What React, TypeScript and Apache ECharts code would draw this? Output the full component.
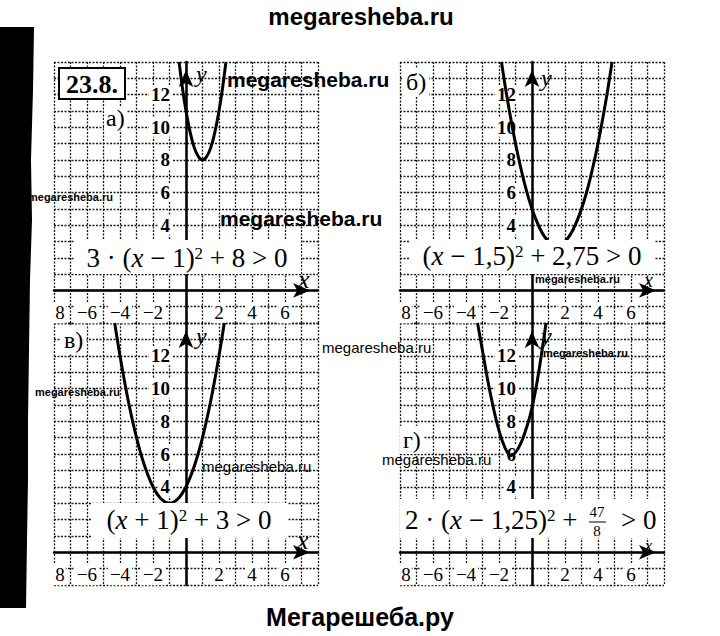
import React, { useEffect, useRef } from 'react';
import * as echarts from 'echarts';

// ---- data ----
const xTickLabels = [-8, -6, -4, -2, 2, 4, 6];
const yTickLabels = [4, 6, 8, 10, 12];

const curveAX = [-0.42, -0.2, 0, 0.25, 0.5, 0.75, 1, 1.25, 1.5, 1.75, 2, 2.2, 2.42];
const curveAY = [14, 12.3, 11, 9.7, 8.75, 8.2, 8, 8.2, 8.75, 9.7, 11, 12.3, 14];

const curveBX = [-1.85, -1.5, -1, -0.5, 0, 0.5, 1, 1.5, 2, 2.5, 3, 3.5, 4, 4.5, 4.85];
const curveBY = [14, 11.75, 9, 6.75, 5, 3.75, 3, 2.75, 3, 3.75, 5, 6.75, 9, 11.75, 14];

const curveVX = [-4.32, -4, -3.5, -3, -2.5, -2, -1.5, -1, -0.5, 0, 0.5, 1, 1.5, 2, 2.32];
const curveVY = [14, 12, 9.25, 7, 5.25, 4, 3.25, 3, 3.25, 4, 5.25, 7, 9.25, 12, 14];

const curveGX = [-3.3, -3.0, -2.7, -2.4, -2.1, -1.8, -1.5, -1.3, -1.0, -0.7, -0.4, -0.1, 0.2, 0.5, 0.85];
const curveGY = [14, 12.3, 10.6, 9.1, 7.8, 6.8, 6.1, 5.9, 6.1, 6.6, 7.4, 8.4, 9.8, 11.6, 14];

const curves = [
  [curveAX, curveAY],
  [curveBX, curveBY],
  [curveVX, curveVY],
  [curveGX, curveGY],
];

const panelLetters = ['а)', 'б)', 'в)', 'г)'];
const topTitle = 'megaresheba.ru';
const bottomTitle = 'Мегарешеба.ру';
const problemNo = '23.8.';
const watermark = 'megaresheba.ru';

const X_MIN = -8;
const X_MAX = 8;
const Y_MIN = -2;
const Y_MAX = 14;

// ---- layout ----
const SERIF = '"Liberation Serif", "DejaVu Serif", serif';
const SANS = '"Liberation Sans", Arial, sans-serif';

const panels = [
  { left: 54, top: 62, width: 264, height: 261 },
  { left: 400, top: 62, width: 264, height: 261 },
  { left: 54, top: 323, width: 264, height: 262 },
  { left: 400, top: 323, width: 264, height: 262 },
];

const minus = (v: number) => (v < 0 ? '\u2212' + -v : String(v));

function buildOption() {
  const grid = panels.map((p) => ({ left: p.left, top: p.top, width: p.width, height: p.height, containLabel: false }));
  const splitLine = { show: true, lineStyle: { color: '#1a1a1a', width: 1.3, type: [2, 1.5] as any } };
  const axisLineBase = {
    onZero: false,
    lineStyle: { color: '#000', width: 2.5 },
    symbol: ['none', 'arrow'],
    symbolSize: [11, 17],
    symbolOffset: [0, -8],
  };
  const xAxis = panels.map((p, i) => ({
    type: 'value',
    gridIndex: i,
    position: 'bottom',
    // move the axis (line + labels) up from the grid bottom to y = 0
    offset: -(p.height * (0 - Y_MIN)) / (Y_MAX - Y_MIN),
    min: X_MIN,
    max: X_MAX,
    interval: 1,
    axisLine: axisLineBase,
    axisTick: { show: false },
    splitLine,
    axisLabel: {
      margin: 12,
      showMinLabel: true,
      showMaxLabel: true,
      formatter: (v: number) => {
        if (!xTickLabels.includes(v)) return '';
        if (v === -8) return '{e|8}';
        return '{b|' + minus(v) + '}';
      },
      rich: {
        b: { fontFamily: SERIF, fontSize: 19, color: '#000', backgroundColor: '#fff', padding: [1, 2] },
        e: { fontFamily: SERIF, fontSize: 19, color: '#000', backgroundColor: '#fff', padding: [1, 1, 1, 13] },
      },
    },
  }));
  const yAxis = panels.map((p, i) => ({
    type: 'value',
    gridIndex: i,
    position: 'left',
    // move the axis right from the grid's left edge to x = 0
    offset: -(p.width * (0 - X_MIN)) / (X_MAX - X_MIN),
    min: Y_MIN,
    max: Y_MAX,
    interval: 1,
    axisLine: axisLineBase,
    axisTick: { show: false },
    splitLine,
    axisLabel: {
      margin: 14,
      formatter: (v: number) => (yTickLabels.includes(v) ? '{b|' + v + '}' : ''),
      rich: {
        b: { fontFamily: SERIF, fontSize: 19, fontWeight: 'bold', color: '#000', backgroundColor: '#fff', padding: [0, 2] },
      },
    },
  }));
  const series = curves.map(([xs, ys], i) => ({
    type: 'line',
    xAxisIndex: i,
    yAxisIndex: i,
    data: xs.map((x, k) => [x, ys[k]]),
    smooth: 0.4,
    showSymbol: false,
    symbol: 'none',
    clip: true,
    lineStyle: { color: '#000', width: 3 },
    z: 5,
  }));

  const Z = 100;
  const txt = (x: number, y: number, text: string, s: any, z = Z + 2) => ({
    type: 'text',
    x,
    y,
    z,
    style: { text, fill: '#000', align: 'left', verticalAlign: 'middle', ...s },
  });
  const rect = (x: number, y: number, w: number, h: number, s: any, z = Z) => ({
    type: 'rect',
    z,
    shape: { x, y, width: w, height: h },
    style: s,
  });
  const eqRich = {
    n: { fontFamily: SERIF, fontSize: 27, fill: '#000' },
    i: { fontFamily: SERIF, fontSize: 27, fontStyle: 'italic', fill: '#000' },
    s: { fontFamily: SERIF, fontSize: 17, fill: '#000', verticalAlign: 'top' },
  };
  const eq = (x: number, y: number, text: string, align = 'center') =>
    txt(x, y, text, { rich: eqRich, align, verticalAlign: 'middle' });

  const wmBold = (x: number, y: number, size: number) =>
    txt(x, y, watermark, { fontFamily: SANS, fontWeight: 'bold', fontSize: size }, Z + 10);
  const wmReg = (x: number, y: number) =>
    txt(x, y, watermark, { fontFamily: SANS, fontSize: 15 }, Z + 10);

  const graphic: any[] = [
    // left black scan edge
    {
      type: 'polygon',
      z: Z + 20,
      shape: {
        points: [[0, 27], [34, 27], [33, 90], [31, 160], [32, 220], [30, 280], [29, 350], [28, 420], [28, 480], [27, 540], [26, 608], [0, 608]],
      },
      style: { fill: '#000' },
    },
    // titles
    txt(361, 16, topTitle, { fontFamily: SANS, fontWeight: 'bold', fontSize: 24, align: 'center' }),
    txt(360, 617, bottomTitle, { fontFamily: SANS, fontWeight: 'bold', fontSize: 25, align: 'center' }),
    // problem number box
    rect(59, 68, 66, 31, { fill: '#fff', stroke: '#000', lineWidth: 2 }),
    txt(92, 84, problemNo, { fontFamily: SERIF, fontWeight: 'bold', fontSize: 26, align: 'center' }),
    // panel letters
    txt(104, 118, panelLetters[0], { fontFamily: SERIF, fontSize: 24, backgroundColor: '#fff', padding: [0, 2] }),
    txt(403, 82, panelLetters[1], { fontFamily: SERIF, fontSize: 24, backgroundColor: '#fff', padding: [2, 3] }),
    txt(61, 340, panelLetters[2], { fontFamily: SERIF, fontSize: 24, backgroundColor: '#fff', padding: [2, 3] }),
    txt(400, 440, panelLetters[3], { fontFamily: SERIF, fontSize: 24, backgroundColor: '#fff', padding: [2, 3] }),
    // axis names
    txt(196, 74, 'y', { fontFamily: SERIF, fontStyle: 'italic', fontSize: 24 }),
    txt(298, 279, 'x', { fontFamily: SERIF, fontStyle: 'italic', fontSize: 26 }),
    txt(541, 78, 'y', { fontFamily: SERIF, fontStyle: 'italic', fontSize: 24 }),
    txt(644, 280, 'x', { fontFamily: SERIF, fontStyle: 'italic', fontSize: 20 }),
    txt(196, 336, 'y', { fontFamily: SERIF, fontStyle: 'italic', fontSize: 24 }),
    txt(297, 540, 'x', { fontFamily: SERIF, fontStyle: 'italic', fontSize: 26 }),
    txt(541, 336, 'y', { fontFamily: SERIF, fontStyle: 'italic', fontSize: 24 }),
    txt(645, 545, 'x', { fontFamily: SERIF, fontStyle: 'italic', fontSize: 16 }),
    // equation boxes
    rect(75, 240, 226, 34, { fill: '#fff' }),
    eq(187, 258, '{n|3 · (}{i|x}{n| − 1)}{s|2}{n| + 8 > 0}'),
    rect(410, 240, 244, 34, { fill: '#fff' }),
    eq(532, 256, '{n|(}{i|x}{n| − 1,5)}{s|2}{n| + 2,75 > 0}'),
    rect(92, 503, 195, 35, { fill: '#fff' }),
    eq(189, 520, '{n|(}{i|x}{n| + 1)}{s|2}{n| + 3 > 0}'),
    rect(400, 499, 264, 39, { fill: '#fff' }),
    eq(405, 520, '{n|2 · (}{i|x}{n| − 1,25)}{s|2}{n| +}', 'left'),
    txt(597, 512, '47', { fontFamily: SERIF, fontSize: 15, align: 'center' }),
    { type: 'line', z: Z + 2, shape: { x1: 589, y1: 522, x2: 606, y2: 522 }, style: { stroke: '#000', lineWidth: 1 } },
    txt(597, 531, '8', { fontFamily: SERIF, fontSize: 15, align: 'center' }),
    eq(621, 520, '{n|> 0}', 'left'),
    // watermarks
    wmBold(227, 79, 21),
    wmBold(220, 218, 21),
    wmBold(28, 197, 11),
    wmBold(535, 279, 11),
    wmBold(543, 353, 11),
    wmBold(35, 392, 11),
    wmReg(322, 347),
    wmReg(202, 466),
    wmReg(382, 459),
  ];

  return {
    animation: false,
    backgroundColor: '#fff',
    grid,
    xAxis,
    yAxis,
    series,
    graphic,
  };
}

export default function App() {
  const ref = useRef<HTMLDivElement>(null);
  useEffect(() => {
    const chart = echarts.init(ref.current!, null, { renderer: 'svg' });
    chart.setOption(buildOption() as any);
    return () => chart.dispose();
  }, []);
  return (
    <div
      ref={ref}
      style={{ position: 'absolute', left: 0, top: 0, width: 720, height: 636, background: '#fff' }}
    />
  );
}
